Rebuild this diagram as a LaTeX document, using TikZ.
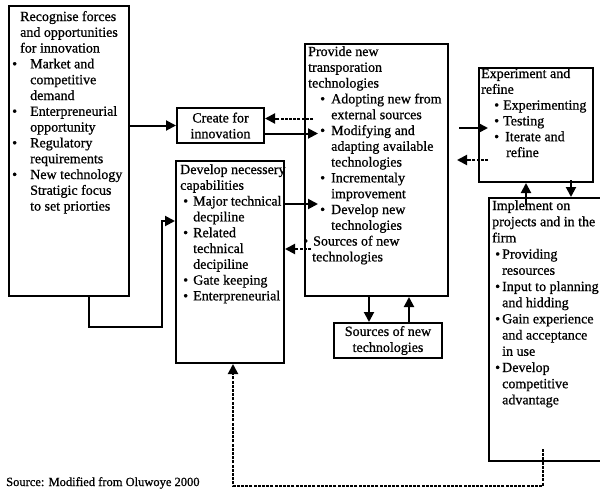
\documentclass[tikz,border=0pt]{standalone}
\usepackage{fontspec}
\setmainfont{Liberation Serif}[FakeBold=0.8]
\usetikzlibrary{arrows.meta}
\newcommand{\bl}[1]{\makebox[#1][l]{\textbullet}}
\begin{document}
\begin{tikzpicture}[x=1pt,y=-1pt,
  box/.style={draw, line width=2pt, inner sep=0pt, anchor=north west},
  arr/.style={line width=2pt, -{Triangle[length=10pt,width=10pt]}},
  darr/.style={arr, dash pattern=on 3pt off 1.2pt},
  txt/.style={anchor=base west, inner sep=0pt}
]
\useasboundingbox (0,0) rectangle (600,490);
% boxes
\node[box, minimum width=120pt, minimum height=290pt] (rec) at (8,5) {};
\node[box, minimum width=87pt, minimum height=35pt, align=center,
      font=\fontsize{14}{15.8}\selectfont] (create) at (176,107) {Create for\\innovation};
\node[box, minimum width=108pt, minimum height=202pt] (dev) at (175,160) {};
\node[box, minimum width=143pt, minimum height=252pt] (trans) at (304,43) {};
\node[box, minimum width=108pt, minimum height=35pt, align=center,
      font=\fontsize{14}{16}\selectfont] (srcb) at (333,322) {Sources of new\\technologies};
\node[box, minimum width=114pt, minimum height=114pt] (exp) at (478,67) {};
\node[box, minimum width=124pt, minimum height=263pt] (impl) at (488,197) {};
% texts
\node[txt] (rect) at (12,21) {\fontsize{14}{15.8}\selectfont\begin{minipage}[t]{200pt}
\hspace*{8pt}Recognise forces\\
\hspace*{8pt}and opportunities\\
\hspace*{8pt}for innovation\\
\bl{18pt}Market and\\
\hspace*{18pt}competitive\\
\hspace*{18pt}demand\\
\bl{18pt}Enterpreneurial\\
\hspace*{18pt}opportunity\\
\bl{18pt}Regulatory\\
\hspace*{18pt}requirements\\
\bl{18pt}New technology\\
\hspace*{18pt}Stratigic focus\\
\hspace*{18pt}to set priorties
\end{minipage}};
\node[txt] (devt) at (180,174) {\fontsize{14}{15.8}\selectfont\begin{minipage}[t]{200pt}
Develop necessery\\
capabilities\\
\hspace*{3pt}\bl{10pt}Major technical\\
\hspace*{13pt}decpiline\\
\hspace*{3pt}\bl{10pt}Related\\
\hspace*{13pt}technical\\
\hspace*{13pt}decipiline\\
\hspace*{3pt}\bl{10pt}Gate keeping\\
\hspace*{3pt}\bl{10pt}Enterpreneurial
\end{minipage}};
\node[txt] (transt) at (308,56) {\fontsize{14}{15.8}\selectfont\begin{minipage}[t]{200pt}
Provide new\\
transporation\\
technologies\\
\hspace*{12pt}\bl{11pt}Adopting new from\\
\hspace*{23pt}external sources\\
\hspace*{12pt}\bl{11pt}Modifying and\\
\hspace*{23pt}adapting available\\
\hspace*{23pt}technologies\\
\hspace*{12pt}\bl{11pt}Incrementaly\\
\hspace*{23pt}improvement\\
\hspace*{12pt}\bl{11pt}Develop new\\
\hspace*{23pt}technologies\\
\hspace*{-5pt}\bl{10pt}Sources of new\\
\hspace*{4pt}technologies
\end{minipage}};
\node[txt] (expt) at (481,78) {\fontsize{14}{15.8}\selectfont\begin{minipage}[t]{200pt}
Experiment and\\
refine\\
\hspace*{13pt}\bl{9pt}Experimenting\\
\hspace*{13pt}\bl{9pt}Testing\\
\hspace*{13pt}\bl{11pt}Iterate and\\
\hspace*{25pt}refine
\end{minipage}};
\node[txt] (implt) at (492,210) {\fontsize{14}{16.2}\selectfont\begin{minipage}[t]{200pt}
Implement on\\
projects and in the\\
firm\\
\hspace*{3pt}\bl{7pt}Providing\\
\hspace*{10pt}resources\\
\hspace*{3pt}\bl{7pt}Input to planning\\
\hspace*{10pt}and hidding\\
\hspace*{3pt}\bl{7pt}Gain experience\\
\hspace*{10pt}and acceptance\\
\hspace*{10pt}in use\\
\hspace*{3pt}\bl{7pt}Develop\\
\hspace*{10pt}competitive\\
\hspace*{10pt}advantage
\end{minipage}};
\node[txt, font=\fontsize{12.5}{14}\selectfont] (source) at (6,486) {Source: Modified from Oluwoye 2000};
% connectors
\draw[arr] (rec.east |- create.west) -- (create.west);
\coordinate (cA) at ([yshift=7pt]create.east);
\coordinate (cB) at ([yshift=-8pt]create.east);
\coordinate (tA) at ([xshift=9pt]trans.west);
\coordinate (tB) at ([xshift=14pt]trans.west);
\coordinate (tC) at ([xshift=7pt]trans.west);
\draw[darr] (cA -| tA) -- (cA);
\draw[arr] (cB) -- (cB -| tB);
\coordinate (dA) at ([yshift=58pt]dev.east);
\coordinate (dB) at ([yshift=13pt]dev.east);
\draw[arr] (dA) -- (dA -| tB);
\draw[darr] (dB -| tC) -- (dB);
\coordinate (rA) at ([xshift=20pt]rec.south);
\coordinate (dC) at ([yshift=41pt]dev.west);
\draw[arr] (rA) -- ++(0,30) -| ([xshift=-13pt]dC) -- (dC);
\coordinate (tD) at ([xshift=-7.5pt]trans.south);
\coordinate (tE) at ([xshift=32.5pt]trans.south);
\draw[arr] (tD) -- (tD |- srcb.north);
\draw[arr] (tE |- srcb.north) -- (tE);
\coordinate (eA) at ([yshift=-3pt]exp.west);
\coordinate (eB) at ([yshift=-35pt]exp.west);
\coordinate (tF) at ([xshift=10pt]trans.east);
\coordinate (tG) at ([xshift=8pt]trans.east);
\draw[arr] (eA -| tF) -- ([xshift=10pt]eA);
\draw[darr] ([xshift=10pt]eB) -- (eB -| tG);
\coordinate (iA) at ([xshift=-25pt]impl.north);
\coordinate (iB) at ([xshift=20pt]impl.north);
\coordinate (eC) at ([yshift=3pt]exp.south);
\draw[arr] ([yshift=-8pt]iA) -- (iA |- exp.south);
\draw[arr] (iB |- eC) -- (iB);
\coordinate (iC) at ([xshift=-8pt,yshift=13pt]impl.south);
\coordinate (dD) at ([xshift=3pt]dev.south);
\draw[darr] (iC) -- ++(0,37) -| (dD);
\end{tikzpicture}
\end{document}
